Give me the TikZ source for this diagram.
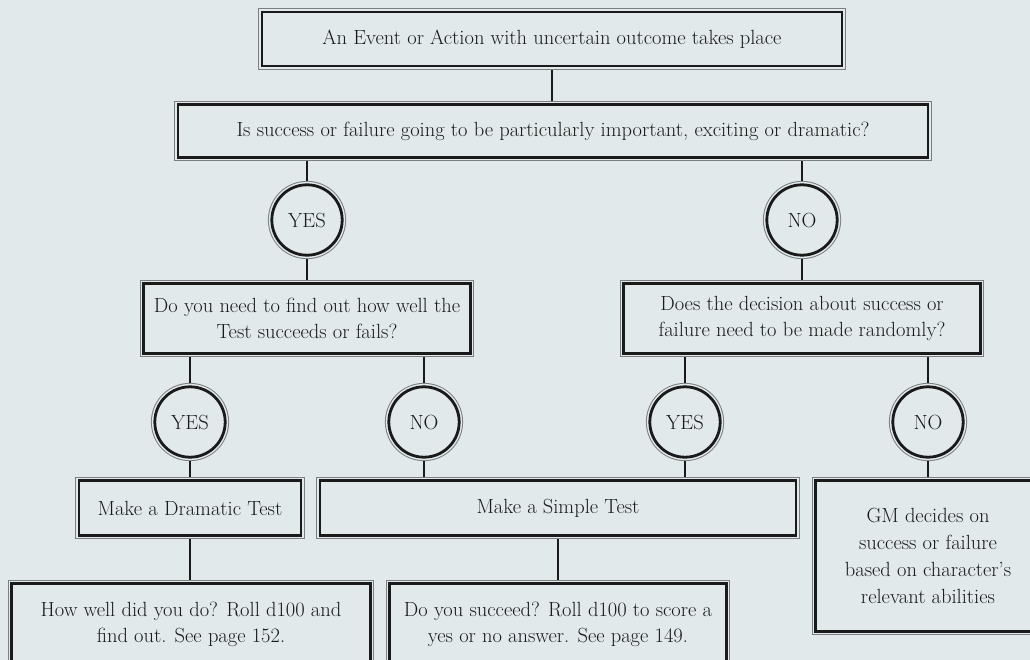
\documentclass[tikz,border=0pt]{standalone}
\usepackage{tikz}
\usetikzlibrary{positioning}
\definecolor{parchment}{HTML}{E2E9EB}
\definecolor{ink}{HTML}{1A1A1A}
\definecolor{rim}{HTML}{7A7F82}

\begin{document}
\begin{tikzpicture}[x=1pt,y=-1pt,
    frame/.style={fill=parchment, draw=ink, line width=2.8pt, text=ink,
      preaction={draw=rim, line width=7.8pt},
      preaction={draw=parchment, line width=5.8pt},
      outer sep=3.9pt, inner sep=0pt, align=center,
      font=\fontsize{20.5}{26}\selectfont},
    box/.style={frame, rectangle},
    answer/.style={frame, circle, minimum size=70.4pt},
    link/.style={draw=ink, line width=2.4pt}]
  \path[use as bounding box, clip] (0,0) rectangle (1030,660);
  \fill[parchment] (0,0) rectangle (1030,660);

  % top of the chart
  \node[box, minimum width=580pt, minimum height=54pt] (event) at (552,39)
    {An Event or Action with uncertain outcome takes place};
  \node[box, minimum width=750pt, minimum height=53pt] (drama) at (553,131)
    {Is success or failure going to be particularly important, exciting or dramatic?};
  \node[answer] (yesA) at (307,220) {YES};
  \node[answer] (noA) at (802,220) {NO};

  % second question on each side
  \node[box, minimum width=327pt, minimum height=70pt] (howwell) at (307,318.5)
    {Do you need to find out how well the\\Test succeeds or fails?};
  \node[box, minimum width=357pt, minimum height=70pt] (random) at (802,318.5)
    {Does the decision about success or\\failure need to be made randomly?};
  \node[answer] (yesB) at (190,422) {YES};
  \node[answer] (noB) at (424,422) {NO};
  \node[answer] (yesC) at (685,422) {YES};
  \node[answer] (noC) at (928,422) {NO};

  % outcomes
  \node[box, minimum width=222pt, minimum height=55pt] (dramatic) at (190,508)
    {Make a Dramatic Test};
  \node[box, minimum width=476pt, minimum height=55pt] (simple) at (558,508)
    {Make a Simple Test};
  \node[box, minimum width=225pt, minimum height=151pt, font=\fontsize{20.5}{27}\selectfont] (gm) at (928,556)
    {GM decides on\\success or failure\\based on character's\\relevant abilities};
  \node[box, minimum width=359pt, minimum height=81pt] (rolldram) at (191,624)
    {How well did you do? Roll d100 and\\find out. See page 152.};
  \node[box, minimum width=337pt, minimum height=81pt] (rollsimple) at (558,624)
    {Do you succeed? Roll d100 to score a\\yes or no answer. See page 149.};

  % connectors
  \draw[link] (event.south) -- (event.south |- drama.north);
  \draw[link] (yesA |- drama.south) -- (yesA.north);
  \draw[link] (noA |- drama.south) -- (noA.north);
  \draw[link] (yesA.south) -- (howwell.north);
  \draw[link] (noA.south) -- (random.north);
  \draw[link] (yesB |- howwell.south) -- (yesB.north);
  \draw[link] (noB |- howwell.south) -- (noB.north);
  \draw[link] (yesC |- random.south) -- (yesC.north);
  \draw[link] (noC |- random.south) -- (noC.north);
  \draw[link] (yesB.south) -- (dramatic.north);
  \draw[link] (noB.south) -- (noB |- simple.north);
  \draw[link] (yesC.south) -- (yesC |- simple.north);
  \draw[link] (noC.south) -- (gm.north);
  \draw[link] (dramatic.south) -- (dramatic.south |- rolldram.north);
  \draw[link] (simple.south) -- (rollsimple.north);
\end{tikzpicture}
\end{document}
